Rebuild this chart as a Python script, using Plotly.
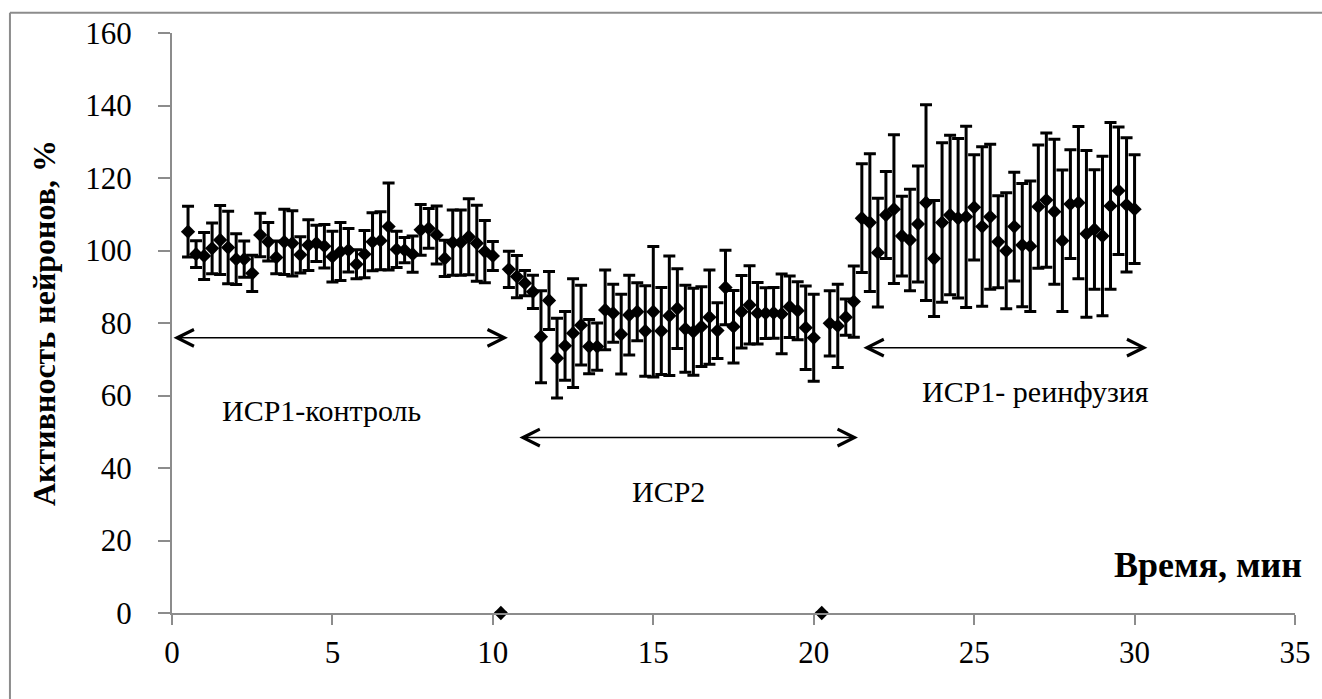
import plotly.graph_objects as go

time_min = [0.5, 0.75, 1.0, 1.25, 1.5, 1.75, 2.0, 2.25, 2.5, 2.75, 3.0, 3.25, 3.5, 3.75, 4.0, 4.25,
            4.5, 4.75, 5.0, 5.25, 5.5, 5.75, 6.0, 6.25, 6.5, 6.75, 7.0, 7.25, 7.5, 7.75, 8.0, 8.25,
            8.5, 8.75, 9.0, 9.25, 9.5, 9.75, 10.0, 10.25, 10.5, 10.75, 11.0, 11.25, 11.5, 11.75,
            12.0, 12.25, 12.5, 12.75, 13.0, 13.25, 13.5, 13.75, 14.0, 14.25, 14.5, 14.75, 15.0,
            15.25, 15.5, 15.75, 16.0, 16.25, 16.5, 16.75, 17.0, 17.25, 17.5, 17.75, 18.0, 18.25,
            18.5, 18.75, 19.0, 19.25, 19.5, 19.75, 20.0, 20.25, 20.5, 20.75, 21.0, 21.25, 21.5,
            21.75, 22.0, 22.25, 22.5, 22.75, 23.0, 23.25, 23.5, 23.75, 24.0, 24.25, 24.5, 24.75,
            25.0, 25.25, 25.5, 25.75, 26.0, 26.25, 26.5, 26.75, 27.0, 27.25, 27.5, 27.75, 28.0,
            28.25, 28.5, 28.75, 29.0, 29.25, 29.5, 29.75, 30.0]

activity = [105.2, 99.0, 98.5, 100.6, 102.9, 100.8, 97.6, 97.6, 93.7, 104.3, 102.4, 98.1, 102.4,
            102.0, 98.8, 101.5, 102.0, 101.2, 98.3, 99.7, 100.1, 96.2, 99.0, 102.4, 102.7, 106.6,
            100.3, 100.1, 99.0, 105.7, 106.1, 104.3, 97.8, 102.2, 102.2, 103.8, 102.0, 99.7, 98.5,
            0.0,
            94.8, 92.8, 91.0, 88.6, 76.2, 86.2, 70.3, 73.7, 77.2, 79.4, 73.5, 73.5, 83.6, 82.7,
            76.9, 82.2, 83.1, 77.8, 83.1, 77.8, 82.0, 84.0, 78.4, 77.6, 79.0, 81.6, 77.9, 89.8,
            79.0, 83.1, 85.0, 82.7, 82.7, 82.8, 82.5, 84.5, 83.4, 78.7, 75.9,
            0.0,
            79.9, 79.2, 81.6, 85.9, 108.9, 107.7, 99.4, 109.8, 111.4, 104.0, 102.9, 107.3, 113.2,
            97.8, 107.7, 109.8, 108.9, 109.3, 111.9, 106.6, 109.3, 102.4, 99.9, 106.6, 101.5,
            101.2, 112.1, 113.9, 110.7, 102.7, 112.8, 113.2, 104.6, 105.8, 104.0, 112.3, 116.5,
            112.6, 111.4]

error = [7.0, 3.7, 6.5, 7.0, 9.5, 10.0, 7.0, 5.0, 5.0, 6.0, 5.3, 4.5, 9.0, 9.0, 5.0, 7.0, 5.0,
         6.0, 7.0, 8.0, 6.0, 4.0, 6.5, 8.0, 8.0, 12.0, 5.0, 3.5, 5.0, 7.0, 5.5, 8.0, 5.0, 9.0,
         9.0, 10.5, 10.5, 8.6, 4.0,
         0.0,
         5.0, 5.8, 3.5, 4.6, 12.7, 8.0, 11.0, 9.5, 15.0, 11.0, 7.5, 6.5, 11.0, 8.0, 11.0, 11.0,
         8.0, 12.5, 18.0, 12.0, 16.5, 11.0, 12.0, 12.0, 11.0, 13.0, 7.7, 10.3, 10.0, 10.0, 10.8,
         8.5, 7.0, 7.0, 11.0, 8.5, 8.0, 11.5, 12.0,
         0.0,
         9.0, 11.5, 5.0, 9.8, 15.0, 19.0, 15.0, 12.0, 20.5, 11.0, 14.0, 16.0, 27.0, 16.0, 22.0,
         22.0, 22.0, 25.0, 14.5, 22.0, 20.0, 12.7, 16.0, 15.0, 17.0, 18.0, 17.0, 18.5, 20.0,
         19.5, 15.0, 21.0, 23.0, 16.5, 22.0, 23.0, 17.6, 18.5, 15.0]

x_ticks = [0, 5, 10, 15, 20, 25, 30, 35]
y_ticks = [0, 20, 40, 60, 80, 100, 120, 140, 160]

SERIF = "Liberation Serif, Times New Roman, serif"
AXIS_GRAY = "#8c8c8c"

fig = go.Figure()
fig.add_trace(go.Scatter(
    x=time_min, y=activity, mode="markers",
    marker=dict(symbol="diamond", size=11, color="black"),
    error_y=dict(type="data", array=error, visible=True, color="black",
                 thickness=3, width=6),
    showlegend=False, cliponaxis=False,
))

# double-headed arrows marking the phases
arrows = [
    (0.0, 10.47, 75.9),
    (10.78, 21.38, 48.4),
    (21.5, 30.4, 73.2),
]
annotations = []
for x0, x1, yv in arrows:
    annotations.append(dict(
        x=x1, y=yv, ax=x0, ay=yv, xref="x", yref="y", axref="x", ayref="y",
        text="", showarrow=True, arrowhead=5, startarrowhead=5, arrowside="end+start",
        arrowsize=2.2, startarrowsize=2.2, arrowwidth=1.5, arrowcolor="black",
        standoff=0, startstandoff=0,
    ))

labels = [
    ("ИСР1-контроль", 4.67, 56.0),
    ("ИСР2", 15.46, 33.4),
    ("ИСР1- реинфузия", 26.9, 61.0),
]
for txt, xv, yv in labels:
    annotations.append(dict(x=xv, y=yv, xref="x", yref="y", text=txt, showarrow=False,
                            font=dict(family=SERIF, size=30, color="black")))

annotations.append(dict(x=32.3, y=13.3, xref="x", yref="y", text="<b>Время, мин</b>",
                        showarrow=False, font=dict(family=SERIF, size=36, color="black")))

fig.update_layout(
    width=1322, height=699,
    margin=dict(l=172, r=27, t=33, b=86, pad=0, autoexpand=False),
    paper_bgcolor="white", plot_bgcolor="white",
    annotations=annotations,
    shapes=[
        dict(type="line", xref="paper", yref="paper", x0=-0.1443, x1=-0.1443, y0=1.035, y1=-0.16,
             line=dict(color=AXIS_GRAY, width=2)),
        dict(type="line", xref="paper", yref="paper", x0=-0.1443, x1=1.03, y0=1.035, y1=1.035,
             line=dict(color=AXIS_GRAY, width=2)),
    ],
)
fig.update_xaxes(
    range=[0, 35], tickvals=x_ticks, ticktext=[str(v) for v in x_ticks], automargin=False,
    showgrid=False, zeroline=False, showline=True, linecolor=AXIS_GRAY, linewidth=2,
    ticks="outside", ticklen=10, tickwidth=2, tickcolor=AXIS_GRAY,
    tickfont=dict(family=SERIF, size=31, color="black"), ticklabelstandoff=1,
)
fig.update_yaxes(
    range=[0, 160], tickvals=y_ticks, ticktext=[str(v) for v in y_ticks], automargin=False,
    showgrid=False, zeroline=False, showline=True, linecolor=AXIS_GRAY, linewidth=2,
    ticks="outside", ticklen=12, tickwidth=2, tickcolor=AXIS_GRAY,
    tickfont=dict(family=SERIF, size=31, color="black"), ticklabelstandoff=20,
    title=dict(text="<b>Активность нейронов, %</b>", standoff=20,
               font=dict(family=SERIF, size=32, color="black")),
)

fig.write_html("out.html")
